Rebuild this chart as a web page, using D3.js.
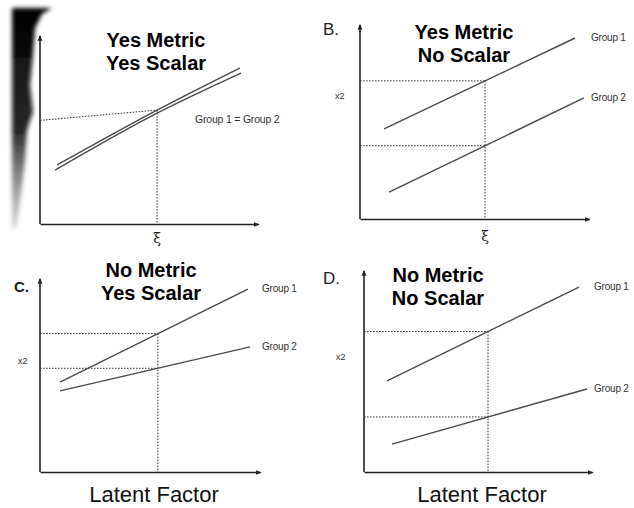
<!DOCTYPE html>
<html>
<head>
<meta charset="utf-8">
<script src="https://cdn.jsdelivr.net/npm/d3@7"></script>
<style>
  html, body { margin: 0; padding: 0; background: #fff; }
  svg { display: block; }
</style>
</head>
<body>
<svg id="chart" width="634" height="508"></svg>
<script>
// ---------------- data ----------------
const panelLetters = ["", "B.", "C.", "D."];
const panelTitles = [
  ["Yes Metric", "Yes Scalar"],
  ["Yes Metric", "No Scalar"],
  ["No Metric", "Yes Scalar"],
  ["No Metric", "No Scalar"]
];
const xiValues = [5.37, 5.46, 5.36, 5.44];          // position of the vertical guide (latent value)
const group1Lines = [
  [[0.78, 3.14], [5.37, 6.06], [9.17, 8.30]],
  [[1.05, 4.64], [9.39, 9.33]],
  [[0.91, 4.66], [9.45, 9.48]],
  [[1.01, 4.53], [9.43, 9.20]]
];
const group2Lines = [
  [[0.69, 2.87], [5.37, 5.90], [9.22, 8.03]],
  [[1.27, 1.39], [9.78, 6.24]],
  [[0.91, 4.20], [9.55, 6.48]],
  [[1.23, 1.39], [9.78, 4.13]]
];
const groupLabels = [["Group 1 = Group 2"], ["Group 1", "Group 2"], ["Group 1", "Group 2"], ["Group 1", "Group 2"]];
const guideStartOffset = [-0.55, 0, 0, 0];            // scanned guide in panel A is slightly tilted
const yAxisLabels = ["", "x2", "x2", "x2"];
const xAxisLabels = ["ξ", "ξ", "Latent Factor", "Latent Factor"];

// ---------------- layout ----------------
const frames = [
  { x0: 40,  x1: 258, yb: 224, yt: 36,  titleX: 156, titleY: 47,  letterX: 0,   letterY: 0,   x2X: 0,   x2Y: 0,   xlabY: 243, latentY: 0 },
  { x0: 360, x1: 589, yb: 219, yt: 25,  titleX: 464, titleY: 39,  letterX: 323, letterY: 35,  x2X: 335, x2Y: 99,  xlabY: 241, latentY: 0 },
  { x0: 40,  x1: 260, yb: 472, yt: 279, titleX: 151, titleY: 277, letterX: 14,  letterY: 292, x2X: 18,  x2Y: 364, xlabY: 0,   latentY: 502 },
  { x0: 364, x1: 592, yb: 472, yt: 271, titleX: 438, titleY: 282, letterX: 323, letterY: 284, x2X: 336, x2Y: 360, xlabY: 0,   latentY: 502 }
];
const labelPosA = { x: 195, y: 123 };

const svg = d3.select("#chart");
const defs = svg.append("defs");
defs.append("marker")
  .attr("id", "arrow")
  .attr("viewBox", "0 0 10 10")
  .attr("refX", 8).attr("refY", 5)
  .attr("markerWidth", 6).attr("markerHeight", 6)
  .attr("markerUnits", "userSpaceOnUse")
  .attr("orient", "auto")
  .append("path").attr("d", "M0,1 L10,5 L0,9 Z").attr("fill", "#222");

const blur = defs.append("filter").attr("id", "blur").attr("x", "-50%").attr("y", "-10%").attr("width", "200%").attr("height", "120%");
blur.append("feGaussianBlur").attr("stdDeviation", 2.2);

const grad = defs.append("linearGradient").attr("id", "smudgeGrad")
  .attr("x1", 0).attr("y1", 0).attr("x2", 0).attr("y2", 1);
grad.append("stop").attr("offset", "0%").attr("stop-color", "#000").attr("stop-opacity", 1);
grad.append("stop").attr("offset", "55%").attr("stop-color", "#111").attr("stop-opacity", 0.9);
grad.append("stop").attr("offset", "100%").attr("stop-color", "#666").attr("stop-opacity", 0.25);

// scan smudge at left edge of panel A
svg.append("path")
  .attr("d", "M12,8 L52,8 L42,14 L35,28 L33,55 L30,85 L33,112 L27,130 L25,160 L21,195 L17,225 L12,230 Z")
  .attr("fill", "url(#smudgeGrad)").attr("filter", "url(#blur)");

const lineGen = d3.line().curve(d3.curveMonotoneX);

frames.forEach((f, i) => {
  const xs = d3.scaleLinear().domain([0, 10]).range([f.x0, f.x1]);
  const ys = d3.scaleLinear().domain([0, 10]).range([f.yb, f.yt]);
  const g = svg.append("g");

  // axes
  const xAxis = g.append("g").attr("transform", `translate(0,${f.yb})`)
    .call(d3.axisBottom(xs).tickValues([]).tickSizeOuter(0));
  xAxis.select(".domain").attr("stroke", "#222").attr("stroke-width", 1.6).attr("marker-end", "url(#arrow)");
  const yAxis = g.append("g").attr("transform", `translate(${f.x0},0)`)
    .call(d3.axisLeft(ys).tickValues([]).tickSizeOuter(0));
  yAxis.select(".domain").attr("stroke", "#222").attr("stroke-width", 1.6)
    .attr("d", `M0,${f.yb}V${f.yt}`).attr("marker-end", "url(#arrow)");

  // guides
  const xi = xiValues[i];
  const at = line => d3.scaleLinear().domain(line.map(p => p[0])).range(line.map(p => p[1]))(xi);
  const guideLines = i === 0 ? [group1Lines[i]] : [group1Lines[i], group2Lines[i]];
  const levels = guideLines.map(at);
  levels.forEach(v => {
    g.append("line")
      .attr("x1", xs(0)).attr("y1", ys(v + guideStartOffset[i]))
      .attr("x2", xs(xi)).attr("y2", ys(v))
      .attr("stroke", "#333").attr("stroke-width", 1).attr("stroke-dasharray", "1.6,1.4");
  });
  g.append("line")
    .attr("x1", xs(xi)).attr("y1", ys(d3.max(levels)))
    .attr("x2", xs(xi)).attr("y2", ys(0))
    .attr("stroke", "#333").attr("stroke-width", 1).attr("stroke-dasharray", "1.6,1.4");

  // group lines
  [group1Lines[i], group2Lines[i]].forEach(line => {
    g.append("path")
      .attr("d", lineGen(line.map(p => [xs(p[0]), ys(p[1])])))
      .attr("fill", "none").attr("stroke", "#4a4a4a").attr("stroke-width", 1.4);
  });

  // group labels
  if (i === 0) {
    g.append("text").attr("x", labelPosA.x).attr("y", labelPosA.y)
      .attr("font-family", "Liberation Sans, Arial, sans-serif").attr("font-size", 10.5)
      .attr("fill", "#333").attr("letter-spacing", -0.2).text(groupLabels[i][0]);
  } else {
    [group1Lines[i], group2Lines[i]].forEach((line, k) => {
      const last = line[line.length - 1];
      g.append("text").attr("x", f.x1 + 2).attr("y", ys(last[1]) + 3)
        .attr("font-family", "Liberation Sans, Arial, sans-serif").attr("font-size", 10)
        .attr("fill", "#333").attr("letter-spacing", -0.2).text(groupLabels[i][k]);
    });
  }

  // titles
  panelTitles[i].forEach((t, k) => {
    g.append("text").attr("x", f.titleX).attr("y", f.titleY + k * 23)
      .attr("text-anchor", "middle")
      .attr("font-family", "Liberation Sans, Arial, sans-serif").attr("font-weight", "bold")
      .attr("font-size", 20).attr("fill", "#000").text(t);
  });

  // panel letter
  if (panelLetters[i]) {
    g.append("text").attr("x", f.letterX).attr("y", f.letterY)
      .attr("font-family", "Liberation Sans, Arial, sans-serif")
      .attr("font-size", i === 2 ? 15 : 17).attr("font-weight", i === 2 ? "bold" : "normal")
      .attr("fill", "#222").text(panelLetters[i]);
  }

  // y label
  if (yAxisLabels[i]) {
    g.append("text").attr("x", f.x2X).attr("y", f.x2Y)
      .attr("font-family", "Liberation Sans, Arial, sans-serif").attr("font-size", 9)
      .attr("fill", "#333").text(yAxisLabels[i]);
  }

  // x label
  if (f.xlabY) {
    g.append("text").attr("x", xs(xi)).attr("y", f.xlabY).attr("text-anchor", "middle")
      .attr("font-family", "DejaVu Serif, serif").attr("font-size", 14)
      .attr("fill", "#222").text(xAxisLabels[i]);
  } else {
    g.append("text").attr("x", (f.x0 + f.x1) / 2 + 4).attr("y", f.latentY).attr("text-anchor", "middle")
      .attr("font-family", "Liberation Sans, Arial, sans-serif").attr("font-size", 22)
      .attr("fill", "#111").text(xAxisLabels[i]);
  }
});
</script>
</body>
</html>
